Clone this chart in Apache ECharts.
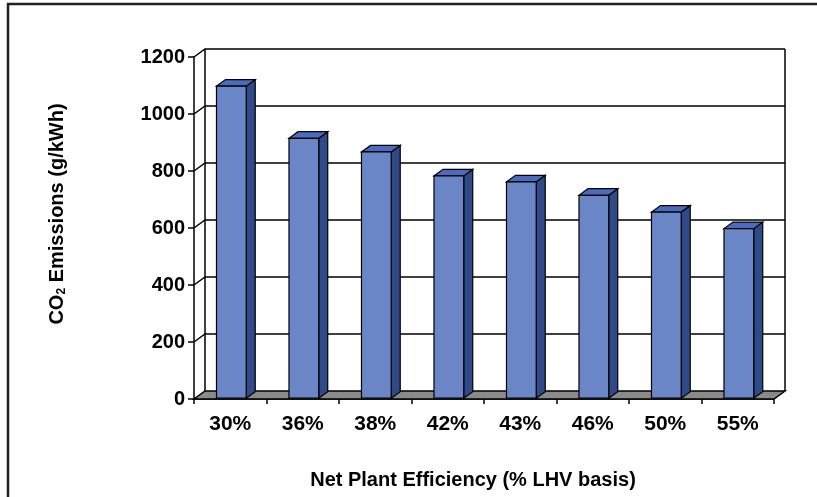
<!DOCTYPE html>
<html>
<head>
<meta charset="utf-8">
<script src="https://cdn.jsdelivr.net/npm/echarts@6/dist/echarts.min.js"></script>
<style>
  html, body { margin: 0; padding: 0; background: #ffffff; }
  #chart { width: 817px; height: 497px; }
</style>
</head>
<body>
<div id="chart"></div>
<script>
// Net plant efficiency categories and CO2 emissions (g/kWh)
const categories = ['30%', '36%', '38%', '42%', '43%', '46%', '50%', '55%'];
const emissions = [1095, 912, 864, 780, 759, 712, 653, 595];
const valueTicks = [0, 200, 400, 600, 800, 1000, 1200];

// pseudo-3D depth of the plot box (pixels the back wall is shifted by)
const DX = 11, DY = 8;
const BAR_FRONT = 0.1, BAR_BACK = 0.92;   // depth span of each column
const BAR_RATIO = 0.41;                   // column width / category band
const FACE = '#6b86c6', SIDE = '#2e4a88', TOPC = '#4a6cbf';
const FONT = '"Liberation Sans", Arial, sans-serif';

const chart = echarts.init(document.getElementById('chart'), null, { renderer: 'canvas' });

// side wall diagonals, back wall gridlines and the grey floor
function renderWall(params, api) {
  const cs = params.coordSys;
  const v = api.value(1);
  const y = api.coord([0, v])[1];
  const x0 = cs.x, x1 = cs.x + cs.width;
  const line = { stroke: '#000', lineWidth: 1.5, fill: null };
  const children = [];
  if (v === 0) {
    children.push({
      type: 'polygon',
      shape: { points: [[x0, y], [x1, y], [x1 + DX, y - DY], [x0 + DX, y - DY]] },
      style: { fill: '#8a8a8a', stroke: '#000', lineWidth: 1.5 }
    });
  } else {
    children.push({
      type: 'polyline',
      shape: { points: [[x0, y], [x0 + DX, y - DY], [x1 + DX, y - DY]] },
      style: line
    });
  }
  if (v === valueTicks[valueTicks.length - 1]) {
    const yb = api.coord([0, 0])[1];
    children.push({ type: 'line', shape: { x1: x0 + DX, y1: y - DY, x2: x0 + DX, y2: yb - DY }, style: line });
    children.push({ type: 'line', shape: { x1: x1 + DX, y1: y - DY, x2: x1 + DX, y2: yb - DY }, style: line });
  }
  return { type: 'group', children: children };
}

// one shaded column: side, top and front face
function renderBar(params, api) {
  const i = api.value(0), v = api.value(1);
  const base = api.coord([i, 0]);
  const top = api.coord([i, v]);
  const band = api.size([1, 0])[0];
  const w = band * BAR_RATIO;
  const xl = base[0] - w / 2 + BAR_FRONT * DX, xr = xl + w;
  const yb = base[1] - BAR_FRONT * DY, yt = top[1] - BAR_FRONT * DY;
  const dx = (BAR_BACK - BAR_FRONT) * DX, dy = (BAR_BACK - BAR_FRONT) * DY;
  const edge = { stroke: '#000', lineWidth: 1.2 };
  return {
    type: 'group',
    children: [
      { type: 'polygon', shape: { points: [[xr, yt], [xr + dx, yt - dy], [xr + dx, yb - dy], [xr, yb]] },
        style: Object.assign({ fill: SIDE }, edge) },
      { type: 'polygon', shape: { points: [[xl, yt], [xr, yt], [xr + dx, yt - dy], [xl + dx, yt - dy]] },
        style: Object.assign({ fill: TOPC }, edge) },
      { type: 'rect', shape: { x: xl, y: yt, width: w, height: yb - yt },
        style: Object.assign({ fill: FACE }, edge) }
    ]
  };
}

const option = {
  backgroundColor: '#ffffff',
  animation: false,
  graphic: [{
    type: 'rect',
    shape: { x: 8, y: 4, width: 900, height: 600 },
    style: { fill: null, stroke: '#222', lineWidth: 2.5 },
    silent: true
  }],
  grid: { left: 194, right: 43, top: 57, bottom: 98, containLabel: false },
  xAxis: {
    type: 'category',
    data: categories,
    boundaryGap: true,
    axisLine: { show: true, lineStyle: { color: '#000', width: 1.5 } },
    axisTick: { show: true, length: 5, interval: 0, lineStyle: { color: '#000', width: 1.5 } },
    axisLabel: { color: '#000', fontSize: 21, fontWeight: 'bold', fontFamily: FONT, margin: 15, interval: 0 },
    splitLine: { show: false },
    name: 'Net Plant Efficiency (% LHV basis)',
    nameLocation: 'middle',
    nameGap: 71,
    nameTextStyle: { color: '#000', fontSize: 20, fontWeight: 'bold', fontFamily: FONT, padding: [0, 22, 0, 0] }
  },
  yAxis: {
    type: 'value',
    min: 0, max: 1200, interval: 200,
    axisLine: { show: true, lineStyle: { color: '#000', width: 1.5 } },
    axisTick: { show: true, length: 6, lineStyle: { color: '#000', width: 1.5 } },
    axisLabel: { color: '#000', fontSize: 20, fontWeight: 'bold', fontFamily: FONT, margin: 9,
                 formatter: v => String(v) },
    splitLine: { show: false },
    name: '{m|CO}{s|2}{m| Emissions (g/kWh)}',
    nameLocation: 'middle',
    nameGap: 126,
    nameRotate: 90,
    nameTextStyle: {
      color: '#000', fontFamily: FONT, padding: [0, 0, 0, 28],
      rich: {
        m: { fontSize: 20, fontWeight: 'bold', fontFamily: FONT, color: '#000' },
        s: { fontSize: 12, fontWeight: 'bold', fontFamily: FONT, color: '#000', padding: [10, 0, 0, 0] }
      }
    }
  },
  series: [
    {
      type: 'custom',
      name: 'walls',
      z: 1,
      silent: true,
      renderItem: renderWall,
      data: valueTicks.map(v => [0, v])
    },
    {
      type: 'custom',
      name: 'CO2 emissions',
      z: 3,
      renderItem: renderBar,
      data: emissions.map((v, i) => [i, v])
    }
  ]
};

chart.setOption(option);
</script>
</body>
</html>
